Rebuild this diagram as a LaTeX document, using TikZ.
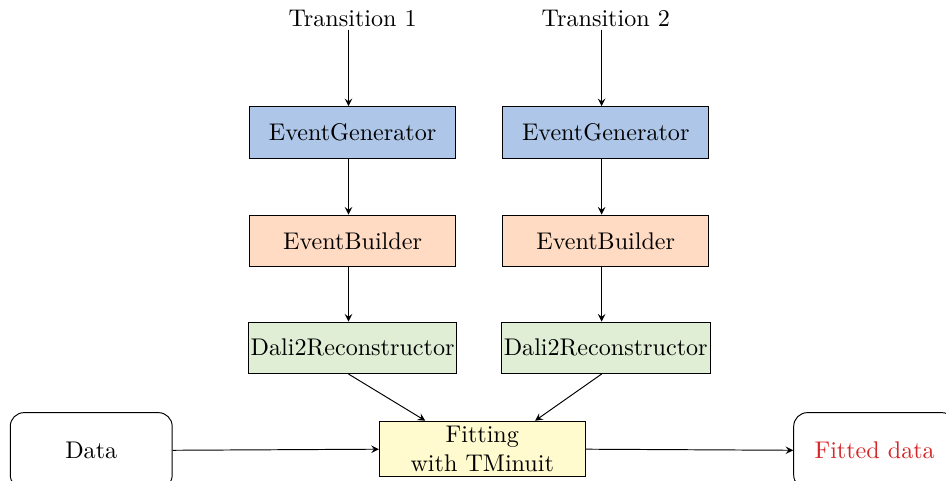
\documentclass[tikz,border=0pt]{standalone}
\usepackage{xcolor}
\usepackage{tikz}
\definecolor{genblue}{RGB}{174,198,232}
\definecolor{buildorange}{RGB}{255,219,196}
\definecolor{recogreen}{RGB}{223,238,213}
\definecolor{fityellow}{RGB}{255,251,206}
\definecolor{fitred}{RGB}{214,39,40}

\begin{document}
\begin{tikzpicture}[
    module/.style={draw, minimum width=3cm, minimum height=0.75cm, inner sep=1pt},
    iobox/.style={draw, rounded corners=0.2cm, minimum width=2.36cm, minimum height=1.11cm},
    arr/.style={->,>=stealth}]
    \useasboundingbox (0,0) rectangle (13.79,-7.01);

    % two transitions
    \node[inner sep=1pt] (T1) at (5.14, -0.27) {Transition 1};
    \node[inner sep=1pt] (T2) at (8.83, -0.27) {Transition 2};

    % simulation chain
    \node[module, fill=genblue] (G1) at (5.14, -1.93) {EventGenerator};
    \node[module, fill=genblue] (G2) at (8.83, -1.93) {EventGenerator};
    \node[module, fill=buildorange] (B1) at (5.14, -3.51) {EventBuilder};
    \node[module, fill=buildorange] (B2) at (8.83, -3.51) {EventBuilder};
    \node[module, fill=recogreen] (R1) at (5.14, -5.07) {Dali2Reconstructor};
    \node[module, fill=recogreen] (R2) at (8.83, -5.07) {Dali2Reconstructor};

    % fit
    \node[module, fill=fityellow, align=center, minimum height=0.8cm, inner ysep=0pt] (fit) at (7.03, -6.54) {Fitting\\with TMinuit};
    \node[iobox] (data) at (1.33, -6.57) {Data};
    \node[iobox, text=fitred] (fitted) at (12.75, -6.57) {Fitted data};

    \draw[arr] ([xshift=-0.06cm]T1.south) -- ([xshift=-0.06cm]G1.north);
    \draw[arr] ([xshift=-0.06cm]T2.south) -- ([xshift=-0.06cm]G2.north);
    \draw[arr] ([xshift=-0.06cm]G1.south) -- ([xshift=-0.06cm]B1.north);
    \draw[arr] ([xshift=-0.06cm]G2.south) -- ([xshift=-0.06cm]B2.north);
    \draw[arr] ([xshift=-0.06cm]B1.south) -- ([xshift=-0.06cm]R1.north);
    \draw[arr] ([xshift=-0.06cm]B2.south) -- ([xshift=-0.06cm]R2.north);
    \draw[arr] ([xshift=-0.06cm]R1.south) -- ([xshift=-0.83cm]fit.north);
    \draw[arr] ([xshift=-0.06cm]R2.south) -- ([xshift=0.77cm]fit.north);
    \draw[arr] (data) -- (fit);
    \draw[arr] (fit) -- (fitted);
\end{tikzpicture}
\end{document}
